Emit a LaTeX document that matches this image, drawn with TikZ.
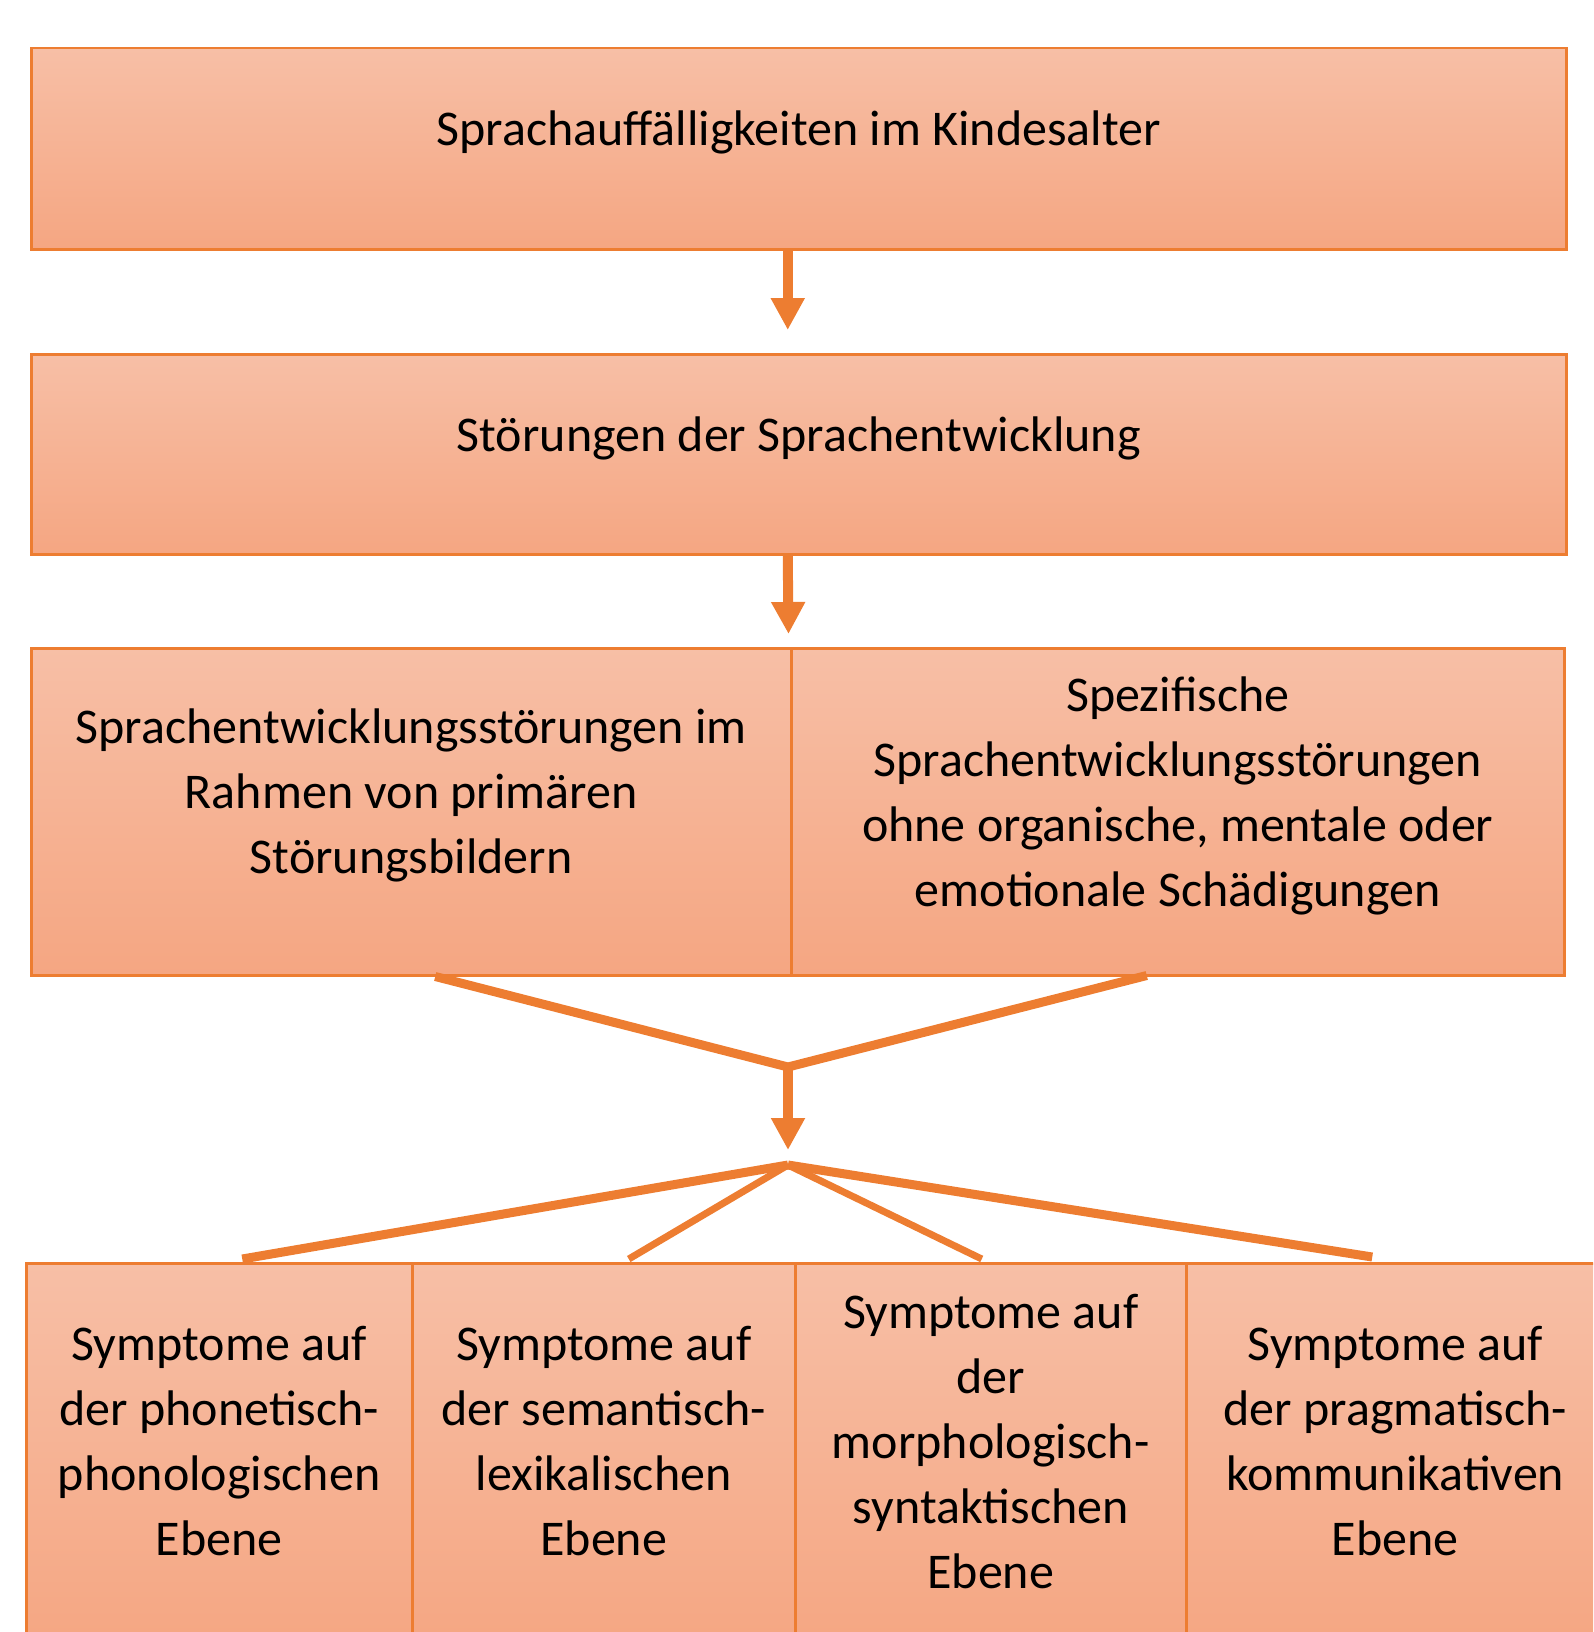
\documentclass[tikz,border=0pt]{standalone}
\usepackage{fontspec}
\setmainfont{Carlito}
\usetikzlibrary{arrows.meta}
\definecolor{akzent}{HTML}{ED7D31}
\definecolor{oben}{HTML}{F7BFA6}
\definecolor{unten}{HTML}{F5A682}

\begin{document}
\begin{tikzpicture}[x=1pt,y=-1pt,
    kasten/.style={draw=akzent, line width=2.5pt, top color=oben, bottom color=unten,
      inner sep=0pt, anchor=north west},
    beschriftung/.style={align=center, font=\fontsize{50}{65}\selectfont},
    pfeil/.style={draw=akzent, line width=10pt, -{Triangle[width=32pt,length=32pt]}},
    ast/.style={draw=akzent, line width=9pt},
    duenn/.style={draw=akzent, line width=7pt}]
  \useasboundingbox (0,0) rectangle (1593,1632);
  \clip (0,0) rectangle (1593,1632);

  % obere Kaesten
  \node[kasten, minimum width=1535pt, minimum height=201pt] (alter) at (30,47) {};
  \node[beschriftung] (alter-text) at ([yshift=16pt]alter.center) {Sprachauffälligkeiten im Kindesalter};
  \node[kasten, minimum width=1535pt, minimum height=200pt] (entw) at (30,353) {};
  \node[beschriftung] (entw-text) at ([yshift=16pt]entw.center) {Störungen der Sprachentwicklung};

  % mittlere Reihe
  \node[kasten, minimum width=760pt, minimum height=327pt] (primaer) at (30,647) {};
  \node[beschriftung] (primaer-text) at ([yshift=16pt]primaer.center)
    {Sprachentwicklungsstörungen im\\Rahmen von primären\\Störungsbildern};
  \node[kasten, minimum width=773pt, minimum height=327pt] (spezif) at (790,647) {};
  \node[beschriftung] (spezif-text) at ([yshift=16pt]spezif.center)
    {Spezifische\\Sprachentwicklungsstörungen\\ohne organische, mentale oder\\emotionale Schädigungen};

  % untere Reihe
  \node[kasten, minimum width=386pt, minimum height=388pt] (phon) at (25,1262) {};
  \node[beschriftung] (phon-text) at ([yshift=16pt]phon.center)
    {Symptome auf\\der phonetisch-\\phonologischen\\Ebene};
  \node[kasten, minimum width=383pt, minimum height=388pt] (sem) at (411,1262) {};
  \node[beschriftung] (sem-text) at ([yshift=16pt]sem.center)
    {Symptome auf\\der semantisch-\\lexikalischen\\Ebene};
  \node[kasten, minimum width=391pt, minimum height=388pt] (morph) at (794,1262) {};
  \node[beschriftung] (morph-text) at ([yshift=16pt]morph.center)
    {Symptome auf\\der\\morphologisch-\\syntaktischen\\Ebene};
  \node[kasten, minimum width=418pt, minimum height=388pt] (prag) at (1185,1262) {};
  \node[beschriftung] (prag-text) at ([yshift=16pt]prag.center)
    {Symptome auf\\der pragmatisch-\\kommunikativen\\Ebene};

  % Verbindungen
  \coordinate (mitte) at (788,1067);
  \coordinate (knoten) at (788,1165);
  \draw[pfeil] ([xshift=-11pt]alter.south) -- ([xshift=-11pt,yshift=23pt]entw.north);
  \draw[pfeil] ([xshift=-11pt]entw.south) -- ([xshift=-4pt,yshift=13pt]primaer.north east);
  \draw[ast] ([xshift=24pt]primaer.south) -- (mitte) -- ([xshift=-31pt,yshift=1pt]spezif.south);
  \draw[pfeil] (mitte) -- ([yshift=-83pt]mitte);
  \draw[ast] (knoten) -- ([xshift=23pt,yshift=3pt]phon.north);
  \draw[duenn] (knoten) -- ([xshift=25pt,yshift=3pt]sem.north);
  \draw[duenn] (knoten) -- ([xshift=-9pt,yshift=3pt]morph.north);
  \draw[ast] (knoten) -- ([xshift=-23pt,yshift=5pt]prag.north);
\end{tikzpicture}
\end{document}
